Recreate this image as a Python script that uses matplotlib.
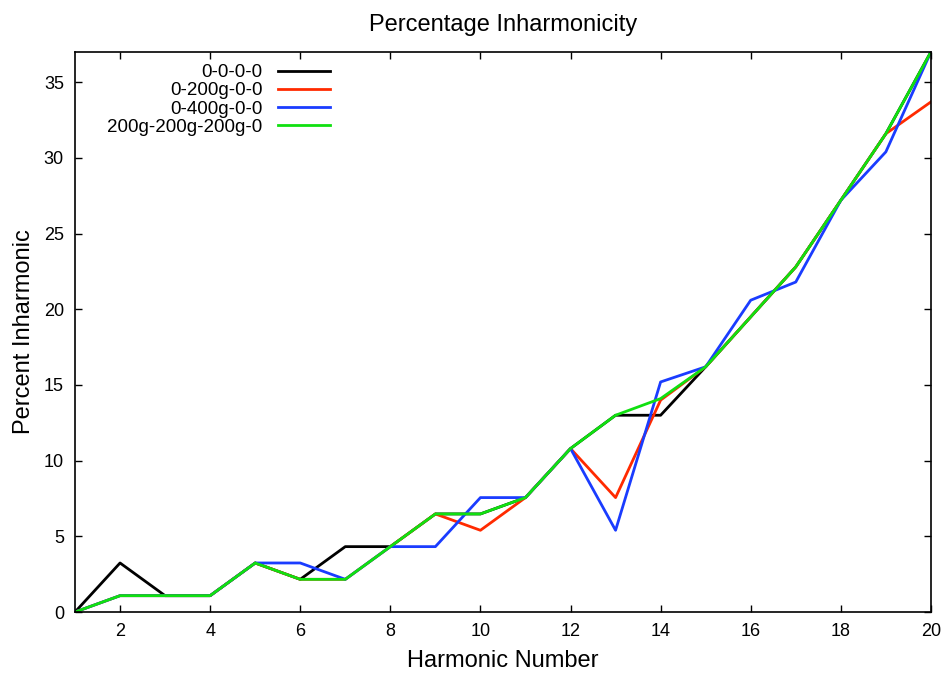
import matplotlib
matplotlib.use("Agg")
import matplotlib.pyplot as plt

plt.rcParams['font.family'] = ['Liberation Sans', 'DejaVu Sans']

# harmonic numbers and percent inharmonicity for each mass configuration
harmonic = list(range(1, 21))
black_vals = [0, 3.24, 1.08, 1.08, 3.24, 2.16, 4.32, 4.32, 6.48, 6.48,
              7.56, 10.8, 13.0, 13.0, 16.2, 19.5, 22.8, 27.2, 31.6, 37.0]
red_vals = [0, 1.08, 1.08, 1.08, 3.24, 2.16, 2.16, 4.32, 6.48, 5.4,
            7.56, 10.8, 7.56, 14.0, 16.2, 19.5, 22.8, 27.2, 31.6, 33.7]
blue_vals = [0, 1.08, 1.08, 1.08, 3.24, 3.24, 2.16, 4.32, 4.32, 7.56,
             7.56, 10.8, 5.4, 15.2, 16.2, 20.6, 21.8, 27.2, 30.4, 37.0]
green_vals = [0, 1.08, 1.08, 1.08, 3.24, 2.16, 2.16, 4.32, 6.48, 6.48,
              7.56, 10.8, 13.0, 14.1, 16.2, 19.5, 22.8, 27.2, 31.6, 37.0]
labels = ['0-0-0-0', '0-200g-0-0', '0-400g-0-0', '200g-200g-200g-0']
colors = ['black', '#ff2a00', '#1a3cff', '#10e010']

fig = plt.figure(figsize=(9.47, 6.75), dpi=100)
ax = fig.add_axes([0.0792, 0.0933, 0.9038, 0.8297])

for vals, lab, col in zip([black_vals, red_vals, blue_vals, green_vals], labels, colors):
    ax.plot(harmonic, vals, color=col, linewidth=2, label=lab)

ax.set_xlim(1, 20)
ax.set_ylim(0, 37.0)
ax.set_xticks(range(2, 21, 2))
ax.set_yticks(range(0, 36, 5))
ax.tick_params(direction='in', top=True, right=True, length=5, width=1,
               labelsize=13, pad=8)
for sp in ax.spines.values():
    sp.set_linewidth(1.2)

ax.set_title('Percentage Inharmonicity', fontsize=17, pad=15)
ax.set_xlabel('Harmonic Number', fontsize=17, labelpad=7)
ax.set_ylabel('Percent Inharmonic', fontsize=17, labelpad=6)

leg = ax.legend(loc='upper right', bbox_to_anchor=(0.298, 0.978), markerfirst=False,
                frameon=False, fontsize=13.5, handlelength=2.8, labelspacing=0.05,
                borderaxespad=0, borderpad=0, handletextpad=0.8)
leg._legend_box.align = 'right'

fig.savefig('out.png', dpi=100)
